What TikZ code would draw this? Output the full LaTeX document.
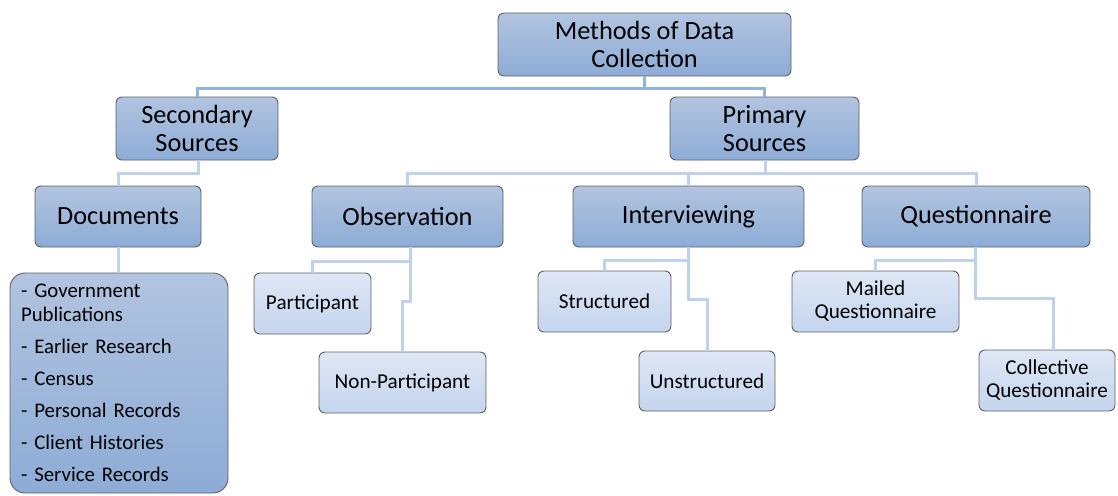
\documentclass[tikz,border=0pt]{standalone}
\usepackage{fontspec}
\setmainfont{Carlito}
\definecolor{topA}{RGB}{178,196,224}
\definecolor{botA}{RGB}{141,172,214}
\definecolor{topB}{RGB}{222,231,245}
\definecolor{botB}{RGB}{196,213,238}
\definecolor{edgeC}{RGB}{95,95,100}
\definecolor{lineA}{RGB}{141,180,226}
\definecolor{lineB}{RGB}{190,210,238}
\tikzset{
  bigbox/.style={draw=edgeC, line width=0.9pt, rounded corners=6pt, top color=topA, bottom color=botA,
    font=\fontsize{26.3}{28}\selectfont, align=center, inner sep=0pt},
  smallbox/.style={draw=edgeC, line width=0.9pt, rounded corners=6pt, top color=topB, bottom color=botB,
    font=\fontsize{21.2}{23}\selectfont, align=center, inner sep=0pt},
  listbox/.style={draw=edgeC, line width=0.9pt, rounded corners=15pt, top color=topA, bottom color=botA,
    font=\fontsize{20.8}{24}\selectfont, align=left, inner sep=0pt},
  conA/.style={draw=lineA, line width=3pt},
  conB/.style={draw=lineB, line width=3pt},
}
\begin{document}
\begin{tikzpicture}[x=1pt,y=-1pt]
\useasboundingbox (0,0) rectangle (1118,495);
% connectors drawn first (behind boxes)
\coordinate (r1) at (644.5,88);
\coordinate (s1) at (198,173);
\coordinate (p1) at (765,173);
\coordinate (o1) at (410,261);
\coordinate (o2) at (410,301);
\coordinate (i1) at (688,260);
\coordinate (i2) at (688,299);
\coordinate (q1) at (975,260);
\coordinate (q2) at (975,298);
\coordinate (q3) at (1053,298);
% nodes
\node[bigbox, minimum width=293, minimum height=63] (root) at (644.5,44.5) {Methods of Data\\Collection};
\node[bigbox, minimum width=162, minimum height=63] (sec) at (197,128.5) {Secondary\\Sources};
\node[bigbox, minimum width=189, minimum height=63] (pri) at (764.5,128.5) {Primary\\Sources};
\node[bigbox, minimum width=166, minimum height=61] (doc) at (118,216.5) {Documents};
\node[bigbox, minimum width=191, minimum height=61] (obs) at (407.5,216.5) {Observation};
\node[bigbox, minimum width=231, minimum height=61] (int) at (688.5,216.5) {Interviewing};
\node[bigbox, minimum width=228, minimum height=61] (que) at (976,216.5) {Questionnaire};
\node[listbox, minimum width=218, minimum height=220, text width=196] (list) at (119,383)
  {- Government\\Publications\\[8pt]- Earlier Research\\[8pt]- Census\\[8pt]- Personal Records\\[8pt]- Client Histories\\[8pt]- Service Records};
\node[smallbox, minimum width=117, minimum height=61] (part) at (312.5,303.5) {Participant};
\node[smallbox, minimum width=167, minimum height=61] (nonp) at (402.5,382.5) {Non-Participant};
\node[smallbox, minimum width=133, minimum height=61] (str) at (604.5,301.5) {Structured};
\node[smallbox, minimum width=136, minimum height=60] (unst) at (707,381) {Unstructured};
\node[smallbox, minimum width=167, minimum height=61] (mail) at (875.5,301.5) {Mailed\\Questionnaire};
\node[smallbox, minimum width=136, minimum height=61] (coll) at (1047,380.5) {Collective\\Questionnaire};
% connectors
\draw[conA] (root.south) -- (r1) -| (sec.north);
\draw[conA] (r1) -| (pri.north);
\draw[conB] (sec.south -| s1) -- (s1) -| (doc.north);
\draw[conB] (pri.south -| p1) -- (p1) -| (obs.north);
\draw[conB] (p1) -| (que.north);
\draw[conB] (p1) -| (int.north);
\draw[conB] (doc.south) -- (list.north -| doc.south);
\draw[conB] (obs.south -| o1) -- (o1) -| (part.north);
\draw[conB] (o1) -- (o2) -| (nonp.north);
\draw[conB] (int.south -| i1) -- (i1) -| (str.north);
\draw[conB] (i1) -- (i2) -| (unst.north);
\draw[conB] (que.south -| q1) -- (q1) -| (mail.north);
\draw[conB] (q1) -- (q2) -- (q3) -- (q3 |- coll.north);
\end{tikzpicture}
\end{document}
